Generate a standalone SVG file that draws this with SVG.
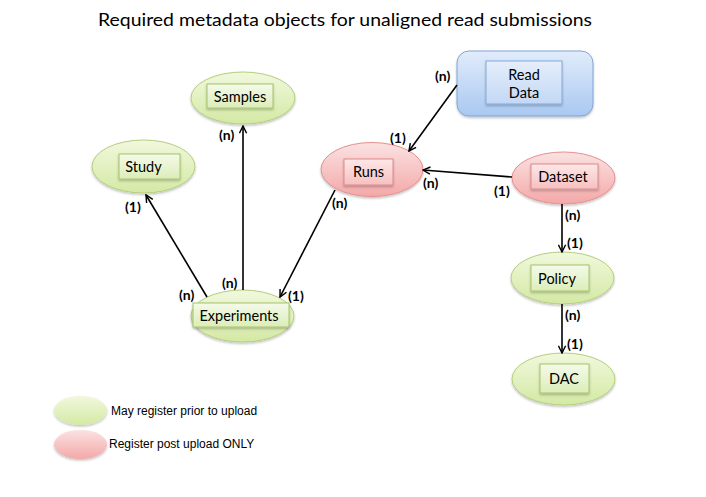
<svg xmlns="http://www.w3.org/2000/svg" width="706" height="497" viewBox="0 0 706 497">
<defs>
<linearGradient id="gGreen" x1="0" y1="0" x2="0" y2="1"><stop offset="0" stop-color="#f1f8dd"/><stop offset="1" stop-color="#d4e9a4"/></linearGradient>
<linearGradient id="gRed" x1="0" y1="0" x2="0" y2="1"><stop offset="0" stop-color="#fbe2e2"/><stop offset="1" stop-color="#f4a8a8"/></linearGradient>
<linearGradient id="gBlue" x1="0" y1="0" x2="0" y2="1"><stop offset="0" stop-color="#e1ecfb"/><stop offset="1" stop-color="#a9c8f1"/></linearGradient>
<linearGradient id="gGreenBox" x1="0" y1="0" x2="0" y2="1"><stop offset="0" stop-color="#f4faea"/><stop offset="1" stop-color="#dcedb9"/></linearGradient>
<linearGradient id="gRedBox" x1="0" y1="0" x2="0" y2="1"><stop offset="0" stop-color="#fde8e8"/><stop offset="1" stop-color="#f6c0c0"/></linearGradient>
<linearGradient id="gBlueBox" x1="0" y1="0" x2="0" y2="1"><stop offset="0" stop-color="#e5eefb"/><stop offset="1" stop-color="#c3d8f5"/></linearGradient>
<filter id="sh" x="-20%" y="-20%" width="140%" height="150%"><feDropShadow dx="0" dy="1.5" stdDeviation="1.2" flood-color="#000" flood-opacity="0.25"/></filter>
<marker id="arr" viewBox="0 0 10 10" refX="9" refY="5" markerWidth="9" markerHeight="9" markerUnits="userSpaceOnUse" orient="auto">
<path d="M1,1 L9,5 L1,9" fill="none" stroke="#000" stroke-width="1.6"/>
</marker>
<style>
.title{font-family:"Lato","Open Sans",sans-serif;font-size:18px;fill:#000}
.lbl{font-family:"Lato","Open Sans",sans-serif;font-size:14.5px;fill:#000}
.card{font-family:"Lato","Open Sans",sans-serif;font-size:14px;font-weight:bold;fill:#000}
.leg{font-family:"Liberation Sans",Arial,sans-serif;font-size:12px;fill:#000}
.eg{fill:url(#gGreen);stroke:#b3cf7e;stroke-width:1}
.er{fill:url(#gRed);stroke:#e59090;stroke-width:1}
.bg{fill:url(#gGreenBox);stroke:#a6c46a;stroke-width:1}
.br{fill:url(#gRedBox);stroke:#dd8a8a;stroke-width:1}
.bb{fill:url(#gBlueBox);stroke:#86a9d9;stroke-width:1}
.conn line{stroke:#000;stroke-width:1.6}
</style>
</defs>
<rect width="706" height="497" fill="#fff"/>
<text class="title" x="345" y="26" text-anchor="middle" textLength="494" lengthAdjust="spacingAndGlyphs">Required metadata objects for unaligned read submissions</text>

<g id="samples">
<ellipse class="eg" cx="243" cy="98" rx="52" ry="26" filter="url(#sh)"/>
<rect class="bg" x="207" y="84" width="66" height="24" filter="url(#sh)"/>
<text class="lbl" x="240" y="101.5" text-anchor="middle">Samples</text>
</g>
<g id="study">
<ellipse class="eg" cx="143.5" cy="166.5" rx="51.5" ry="26.5" filter="url(#sh)"/>
<rect class="bg" x="119" y="154" width="61" height="25" filter="url(#sh)"/>
<text class="lbl" x="143.5" y="171.5" text-anchor="middle">Study</text>
</g>
<g id="readdata">
<rect x="457" y="51" width="136" height="65" rx="12" ry="12" fill="url(#gBlue)" stroke="#7fa6d6" stroke-width="1" filter="url(#sh)"/>
<rect class="bb" x="486" y="61" width="76" height="43" filter="url(#sh)"/>
<text class="lbl" x="524" y="79.5" text-anchor="middle">Read</text>
<text class="lbl" x="524" y="97.5" text-anchor="middle">Data</text>
</g>
<g id="runs">
<ellipse class="er" cx="372" cy="169.5" rx="51" ry="27" filter="url(#sh)"/>
<rect class="br" x="344" y="159" width="49" height="26" filter="url(#sh)"/>
<text class="lbl" x="368.5" y="177" text-anchor="middle">Runs</text>
</g>
<g id="dataset">
<ellipse class="er" cx="563.5" cy="178" rx="51.5" ry="26" filter="url(#sh)"/>
<rect class="br" x="531" y="164" width="67" height="25" filter="url(#sh)"/>
<text class="lbl" x="563" y="181.5" text-anchor="middle">Dataset</text>
</g>
<g id="experiments">
<ellipse class="eg" cx="242.5" cy="316" rx="51.5" ry="26" filter="url(#sh)"/>
<rect class="bg" x="193" y="303" width="96" height="24" filter="url(#sh)"/>
<text class="lbl" x="239" y="320.5" text-anchor="middle">Experiments</text>
</g>
<g id="policy">
<ellipse class="eg" cx="562.5" cy="278" rx="51.5" ry="26" filter="url(#sh)"/>
<rect class="bg" x="531" y="265" width="58" height="26" filter="url(#sh)"/>
<text class="lbl" x="557" y="284" text-anchor="middle">Policy</text>
</g>
<g id="dac">
<ellipse class="eg" cx="563.5" cy="379" rx="51.5" ry="26" filter="url(#sh)"/>
<rect class="bg" x="540" y="364" width="49" height="29" filter="url(#sh)"/>
<text class="lbl" x="564" y="384" text-anchor="middle">DAC</text>
</g>

<g id="connectors" class="conn">
<line x1="207" y1="297" x2="146" y2="195" marker-end="url(#arr)"/>
<line x1="243" y1="290" x2="243" y2="126" marker-end="url(#arr)"/>
<line x1="335" y1="190" x2="280" y2="297" marker-end="url(#arr)"/>
<line x1="457" y1="85" x2="409" y2="151" marker-end="url(#arr)"/>
<line x1="512" y1="177" x2="423" y2="170" marker-end="url(#arr)"/>
<line x1="562" y1="204" x2="562" y2="252" marker-end="url(#arr)"/>
<line x1="562" y1="304" x2="562" y2="353" marker-end="url(#arr)"/>
</g>

<g id="cardinalities">
<text class="card" x="219" y="140">(n)</text>
<text class="card" x="125" y="212">(1)</text>
<text class="card" x="435" y="81">(n)</text>
<text class="card" x="390" y="143">(1)</text>
<text class="card" x="423" y="188">(n)</text>
<text class="card" x="494" y="196">(1)</text>
<text class="card" x="332" y="208">(n)</text>
<text class="card" x="179" y="300">(n)</text>
<text class="card" x="222" y="288">(n)</text>
<text class="card" x="288" y="301">(1)</text>
<text class="card" x="565" y="220">(n)</text>
<text class="card" x="567" y="248">(1)</text>
<text class="card" x="565" y="320">(n)</text>
<text class="card" x="567" y="349">(1)</text>
</g>

<g id="legend">
<ellipse cx="80.5" cy="410.5" rx="26.5" ry="14.5" fill="url(#gGreen)" stroke="none" filter="url(#sh)"/>
<text class="leg" x="111" y="415">May register prior to upload</text>
<ellipse cx="80.5" cy="444.5" rx="26.5" ry="14.5" fill="url(#gRed)" stroke="none" filter="url(#sh)"/>
<text class="leg" x="109" y="448">Register post upload ONLY</text>
</g>
</svg>
